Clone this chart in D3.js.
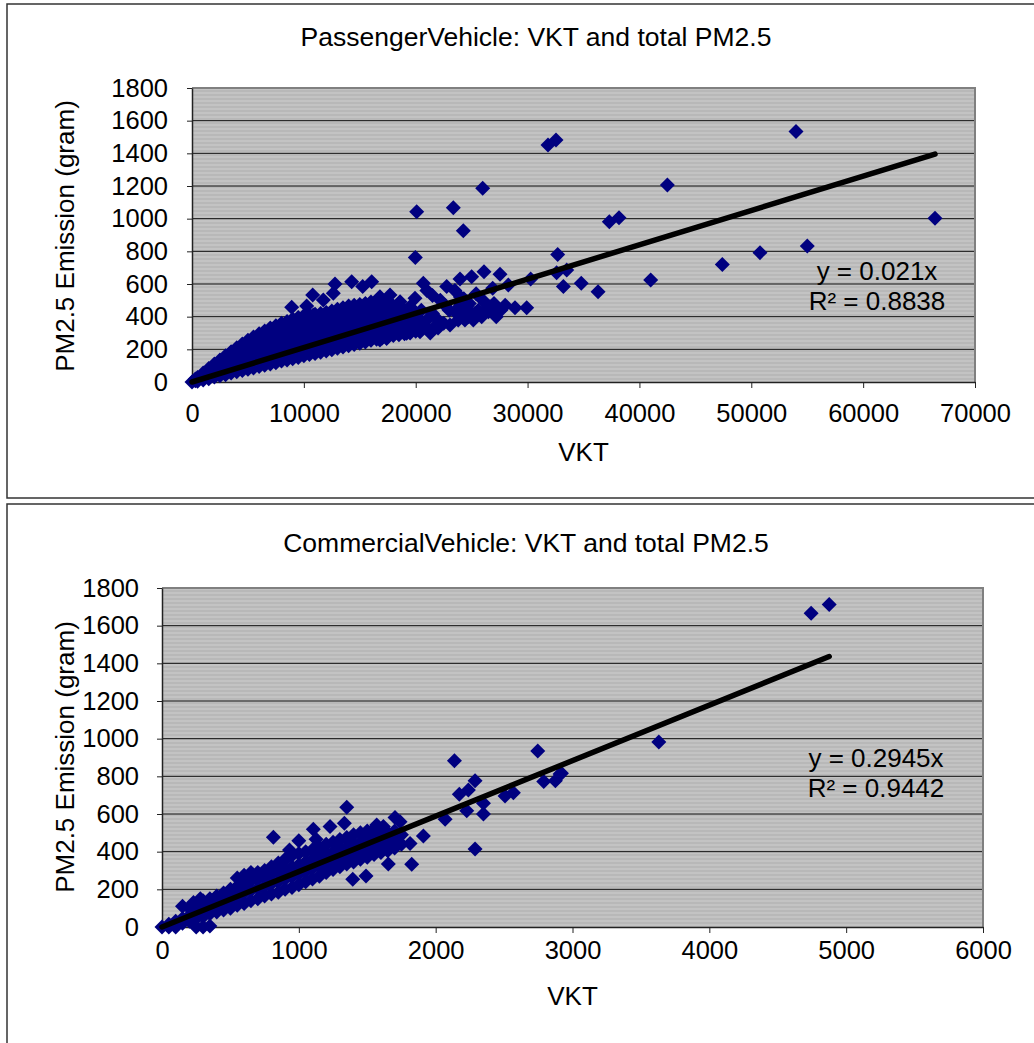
<!DOCTYPE html>
<html><head><meta charset="utf-8">
<script src="https://cdn.jsdelivr.net/npm/d3@7"></script>
<style>
body{margin:0;background:#fff}
svg{display:block}
text{font-family:"Liberation Sans",Arial,sans-serif;fill:#000}
</style>
</head><body>
<svg id="c" width="1034" height="1043"></svg>
<script>
// ---------- DATA ----------
const yTicks = [0,200,400,600,800,1000,1200,1400,1600,1800];
const pvXTicks = [0,10000,20000,30000,40000,50000,60000,70000];
const cvXTicks = [0,1000,2000,3000,4000,5000,6000];

const pvTitle = "PassengerVehicle: VKT and total PM2.5";
const cvTitle = "CommercialVehicle: VKT and total PM2.5";
const xLabel = "VKT";
const yLabel = "PM2.5 Emission (gram)";
const pvSlope = 0.021, pvR2 = "0.8838";
const cvSlope = 0.2945, cvR2 = "0.9442";

// Passenger vehicles: [VKT, PM2.5 gram]
const pvPoints = [
[0,0],[300,8],[300,18],[500,5],[500,18],[500,28],[1000,12],[1000,35],[1000,55],
[1500,20],[1500,50],[1500,82],[2000,30],[2000,70],[2000,110],
[2500,38],[2500,80],[2500,120],[2500,135],[3000,45],[3000,85],[3000,125],[3000,160],
[3500,55],[3500,95],[3500,140],[3500,185],[4000,62],[4000,105],[4000,150],[4000,190],[4000,210],
[4500,70],[4500,115],[4500,160],[4500,200],[4500,232],[5000,78],[5000,120],[5000,165],[5000,210],[5000,255],
[5500,86],[5500,130],[5500,175],[5500,220],[5500,275],[6000,95],[6000,140],[6000,185],[6000,230],[6000,270],[6000,295],
[6500,102],[6500,145],[6500,190],[6500,235],[6500,280],[6500,312],[7000,110],[7000,155],[7000,200],[7000,245],[7000,290],[7000,330],
[7500,118],[7500,160],[7500,205],[7500,250],[7500,300],[7500,345],[8000,128],[8000,170],[8000,215],[8000,260],[8000,310],[8000,360],
[8500,135],[8500,180],[8500,225],[8500,270],[8500,320],[8500,370],[9000,143],[9000,190],[9000,235],[9000,285],[9000,335],[9000,385],
[9500,150],[9500,195],[9500,245],[9500,295],[9500,345],[9500,395],[10000,160],[10000,205],[10000,255],[10000,305],[10000,355],[10000,405],
[10500,168],[10500,215],[10500,265],[10500,315],[10500,365],[10500,410],[11000,175],[11000,225],[11000,275],[11000,325],[11000,375],[11000,415],
[11500,182],[11500,230],[11500,280],[11500,330],[11500,380],[11500,420],[12000,190],[12000,240],[12000,290],[12000,340],[12000,390],[12000,425],
[12500,198],[12500,245],[12500,295],[12500,345],[12500,395],[12500,435],[13000,207],[13000,255],[13000,305],[13000,355],[13000,405],[13000,445],
[13500,215],[13500,262],[13500,310],[13500,360],[13500,410],[13500,455],[14000,222],[14000,270],[14000,320],[14000,370],[14000,420],[14000,465],
[14500,230],[14500,278],[14500,325],[14500,375],[14500,425],[14500,470],[15000,238],[15000,285],[15000,335],[15000,385],[15000,430],[15000,475],
[15500,245],[15500,292],[15500,340],[15500,390],[15500,440],[15500,480],[16000,255],[16000,300],[16000,350],[16000,400],[16000,445],[16000,490],
[16500,262],[16500,310],[16500,355],[16500,405],[16500,450],[16500,495],[17000,270],[17000,315],[17000,365],[17000,410],[17000,455],[17000,495],
[17500,278],[17500,322],[17500,370],[17500,415],[17500,460],[17500,490],[18000,285],[18000,330],[18000,375],[18000,420],[18000,465],
[18500,290],[18500,335],[18500,380],[18500,425],[19000,295],[19000,340],[19000,385],[19000,440],[19500,300],[19500,350],[19500,400],
[20000,310],[20000,360],[20000,420],[20500,320],[20500,370],[21000,330],[21000,380],
// scattered / outliers
[32540,1482],[31826,1451],[25987,1186],[20085,1043],[23360,1067],[24257,926],[19966,763],[32690,781],
[32600,669],[33500,686],[33200,584],[34800,604],[36300,553],[53996,1533],[42500,1206],[37306,981],
[38173,1006],[66423,1002],[55006,833],[50777,792],[47410,720],[41005,624],
[27534,659],[26104,675],[25000,645],[28280,594],[26880,574],[30276,631],[28875,455],[29920,455],
[26640,461],[25900,400],[25150,380],[23960,631],[22770,584],[24560,461],[24400,380],[21875,349],
[23064,349],[20680,604],[19935,512],[21000,560],[21500,530],[20383,308],[19190,298],[16800,257],
[17400,267],[16065,614],[15260,584],[14277,614],[12784,600],[12633,543],[11740,502],[10790,533],
[8913,457],[10253,465],[10845,410],[16800,522],[17700,533],[18600,492],[19490,461],
[22200,500],[22600,470],[23000,440],[23500,430],[24000,470],[24300,420],[24800,430],[21500,420],
[22000,380],[22500,360],[21300,300],[22000,330],[20500,440],[19800,420],[23800,380],[24000,520],
[25400,540],[26000,500],[26500,430],[27000,480],[27600,440],[27200,400],[28000,470],[25600,440],
[23500,560],[24300,510],[24800,480],[25300,420],[26200,440],[24700,400]
];

// Commercial vehicles: [VKT, PM2.5 gram]
const cvPoints = [
[0,0],[50,0],[50,15],[100,0],[100,10],[100,30],[150,20],[150,45],[150,110],[200,30],[200,60],[200,100],
[230,130],[250,0],[250,45],[250,80],[250,120],[280,150],[300,0],[300,55],[300,95],[300,140],
[350,5],[350,70],[350,110],[350,150],[400,80],[400,120],[400,165],[450,90],[450,135],[450,180],
[500,100],[500,150],[500,200],[550,115],[550,165],[550,215],[550,260],[600,125],[600,180],[600,230],[600,275],
[650,140],[650,195],[650,245],[650,290],[700,150],[700,205],[700,255],[700,290],[750,165],[750,215],[750,265],[750,300],
[800,175],[800,230],[800,280],[800,320],[850,185],[850,240],[850,290],[850,340],
[900,200],[900,255],[900,305],[900,360],[950,210],[950,265],[950,320],[950,380],
[1000,225],[1000,280],[1000,330],[1000,390],[1050,240],[1050,295],[1050,345],[1050,400],
[1100,255],[1100,310],[1100,360],[1100,410],[1150,270],[1150,320],[1150,375],[1150,425],
[1200,290],[1200,335],[1200,390],[1200,440],[1250,305],[1250,350],[1250,400],[1250,450],
[1300,320],[1300,365],[1300,415],[1300,465],[1350,335],[1350,380],[1350,425],[1350,475],
[1400,345],[1400,390],[1400,440],[1400,490],[1450,360],[1450,405],[1450,450],[1450,500],
[1500,370],[1500,420],[1500,465],[1500,510],[1550,385],[1550,430],[1550,480],[1550,520],
[1600,395],[1600,440],[1600,490],[1650,405],[1650,455],[1650,500],[1700,420],[1700,470],[1700,510],
[1750,440],[1750,490],
// scattered / outliers
[4744,1666],[4876,1713],[3631,982],[2909,812],[2746,934],[2137,883],[2288,777],[2239,727],
[2173,705],[2349,657],[2349,600],[2227,617],[2288,414],[2069,572],[2507,696],[2568,713],
[2790,772],[2875,777],[2919,816],[1910,483],[1825,333],[1813,444],[1703,582],[1740,559],
[1654,334],[1491,271],[1394,253],[1350,636],[1333,551],[1228,533],[1106,519],[1126,466],
[814,476],[1000,458],[932,409],[1569,542],[1618,533]
];

// ---------- DRAW ----------
const svg = d3.select("#c");
const defs = svg.append("defs");
const pat = defs.append("pattern").attr("id","stripes").attr("width",4).attr("height",4)
  .attr("patternUnits","userSpaceOnUse");
pat.append("rect").attr("width",4).attr("height",4).attr("fill","#c3c3c3");
pat.append("rect").attr("y",2).attr("width",4).attr("height",2).attr("fill","#b8b8b8");

const diamond = "M0,-7.5L7.5,0L0,7.5L-7.5,0Z";
const TICK_FS = 25.5, TITLE_FS = 26.5, LAB_FS = 26;

function drawChart(cfg){
  const g = svg.append("g");
  const f = cfg.frame, p = cfg.plot;
  g.append("rect").attr("x",f.x).attr("y",f.y).attr("width",f.w).attr("height",f.h)
    .attr("fill","#fff").attr("stroke","#333").attr("stroke-width",1.5);

  const x = d3.scaleLinear().domain([0, d3.max(cfg.xTicks)]).range([p.x0, p.x1]);
  const y = d3.scaleLinear().domain([0, d3.max(yTicks)]).range([p.y1, p.y0]);

  g.append("rect").attr("x",p.x0).attr("y",p.y0).attr("width",p.x1-p.x0).attr("height",p.y1-p.y0)
    .attr("fill","url(#stripes)");
  g.selectAll("line.grid").data(yTicks.filter(v=>v>0)).join("line").attr("class","grid")
    .attr("x1",p.x0).attr("x2",p.x1).attr("y1",d=>y(d)).attr("y2",d=>y(d))
    .attr("stroke","#111").attr("stroke-width",1);
  g.append("path").attr("d",`M${p.x0},${p.y0}H${p.x1}V${p.y1}`)
    .attr("fill","none").attr("stroke","#808080").attr("stroke-width",2);

  const fmt = d3.format("d");
  const ya = g.append("g").attr("transform",`translate(${p.x0},0)`)
    .call(d3.axisLeft(y).tickValues(yTicks).tickSizeInner(5).tickSizeOuter(0).tickPadding(cfg.yPad).tickFormat(fmt));
  const xa = g.append("g").attr("transform",`translate(0,${p.y1})`)
    .call(d3.axisBottom(x).tickValues(cfg.xTicks).tickSizeInner(6).tickSizeOuter(0).tickPadding(cfg.xPad).tickFormat(fmt));
  [ya,xa].forEach(a=>{
    a.select(".domain").attr("stroke","#222").attr("stroke-width",1.5);
    a.selectAll(".tick line").attr("stroke","#222");
    a.selectAll(".tick text").attr("font-size",TICK_FS).attr("fill","#000")
      .style("font-family",'"Liberation Sans",Arial,sans-serif');
  });

  g.append("g").selectAll("path").data(cfg.points).join("path")
    .attr("d",diamond).attr("transform",d=>`translate(${x(d[0])},${y(d[1])})`)
    .attr("fill","#000080");

  const xmax = d3.max(cfg.points, d=>d[0]);
  g.append("line").attr("x1",x(0)).attr("y1",y(0)).attr("x2",x(xmax)).attr("y2",y(cfg.slope*xmax))
    .attr("stroke","#000").attr("stroke-width",5.5).attr("stroke-linecap","round");

  g.append("text").attr("x",cfg.titleX).attr("y",cfg.titleY).attr("text-anchor","middle")
    .attr("font-size",TITLE_FS).text(cfg.title);
  g.append("text").attr("x",(p.x0+p.x1)/2).attr("y",cfg.xLabY).attr("text-anchor","middle")
    .attr("font-size",LAB_FS).text(xLabel);
  g.append("text").attr("transform",`translate(74,${cfg.yLabY}) rotate(-90)`).attr("text-anchor","middle")
    .attr("font-size",LAB_FS).text(yLabel);
  g.append("text").attr("x",cfg.eqX).attr("y",cfg.eqY).attr("text-anchor","middle")
    .attr("font-size",LAB_FS).text(`y = ${cfg.slope}x`);
  g.append("text").attr("x",cfg.eqX).attr("y",cfg.eqY+30).attr("text-anchor","middle")
    .attr("font-size",LAB_FS).text(`R² = ${cfg.r2}`);
}

drawChart({
  frame:{x:7,y:4,w:1100,h:494},
  plot:{x0:192,x1:975,y0:88,y1:382},
  xTicks:pvXTicks, points:pvPoints, slope:pvSlope, r2:pvR2,
  title:pvTitle, titleX:536, titleY:46, xLabY:461, yLabY:236,
  yPad:19, xPad:16, eqX:877, eqY:280
});
drawChart({
  frame:{x:7,y:504,w:1100,h:600},
  plot:{x0:162,x1:983,y0:588,y1:927},
  xTicks:cvXTicks, points:cvPoints, slope:cvSlope, r2:cvR2,
  title:cvTitle, titleX:526, titleY:552, xLabY:1005, yLabY:757,
  yPad:18, xPad:8, eqX:876, eqY:767
});
</script>
</body></html>
